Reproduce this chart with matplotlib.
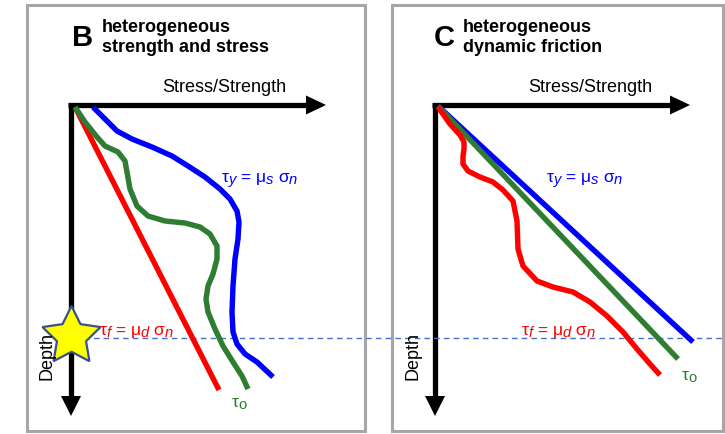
import matplotlib
matplotlib.use("Agg")
import matplotlib.pyplot as plt
from matplotlib.patches import Rectangle

plt.rcParams['font.family'] = ['Liberation Sans', 'DejaVu Sans']

# ---- data (stress = horizontal position, depth = vertical position, in figure pixels) ----
b_blue_stress = [93, 105, 117, 132, 152, 172, 188, 205, 220, 230, 237, 239, 238, 235, 233, 232, 233, 237, 245, 257, 273]
b_blue_depth = [108, 120, 132, 140, 148, 157, 167, 178, 190, 200, 212, 223, 240, 260, 287, 313, 333, 345, 355, 363, 378]
b_green_stress = [75, 85, 97, 105, 118, 125, 127, 130, 137, 148, 165, 185, 200, 210, 217, 217, 213, 208, 206, 208, 215, 223, 233, 242, 248]
b_green_depth = [108, 123, 138, 147, 153, 162, 173, 190, 207, 217, 222, 224, 228, 235, 247, 260, 275, 287, 300, 313, 330, 347, 363, 377, 390]
b_red_stress = [75, 219]
b_red_depth = [108, 391]

c_blue_stress = [438, 693]
c_blue_depth = [107, 343]
c_green_stress = [438, 678]
c_green_depth = [107, 360]
c_red_stress = [438, 450, 460, 464, 464, 463, 463, 468, 480, 493, 503, 513, 517, 518, 523, 537, 553, 573, 590, 607, 623, 637, 650, 660]
c_red_depth = [108, 125, 136, 143, 150, 157, 165, 172, 178, 183, 191, 202, 222, 250, 267, 282, 288, 293, 303, 317, 333, 350, 365, 376]

hypocentre_depth = 339

BLUE = '#0000ff'
GREEN = '#2e7d32'
RED = '#ff0000'

fig = plt.figure(figsize=(7.25, 4.35), dpi=100)
ax = fig.add_axes([0, 0, 1, 1])
ax.set_xlim(0, 725)
ax.set_ylim(435, 0)
ax.axis('off')
renderer = fig.canvas.get_renderer()

# panel frames
for (x0, x1) in [(27, 365), (392, 723)]:
    ax.add_patch(Rectangle((x0, 6), x1 - x0, 426, fill=False, edgecolor='#a6a6a6', lw=2.2))

# axes arrows
def axes_arrows(ox, oy, xend, yend):
    ax.plot([ox - 2.5, xend - 18], [oy, oy], color='black', lw=3.8, solid_capstyle='butt')
    ax.plot([ox, ox], [oy - 2.5, yend - 18], color='black', lw=3.8, solid_capstyle='butt')
    ax.fill([xend - 20, xend, xend - 20], [oy - 9.5, oy, oy + 9.5], color='black', lw=0)
    ax.fill([ox - 10, ox, ox + 10], [yend - 20, yend, yend - 20], color='black', lw=0)

axes_arrows(71, 106, 326, 417)
axes_arrows(435, 106, 690, 417)

# dashed hypocentre line
ax.plot([74, 725], [hypocentre_depth, hypocentre_depth], color='#4472c4', lw=1.0,
        dashes=(4, 3))

kw = dict(lw=3.9, solid_capstyle='butt', solid_joinstyle='round')
ax.plot(b_red_stress, b_red_depth, color=RED, **kw)
ax.plot(b_green_stress, b_green_depth, color=GREEN, **kw)
ax.plot(b_blue_stress, b_blue_depth, color=BLUE, **kw)

ax.plot(c_blue_stress, c_blue_depth, color=BLUE, **kw)
ax.plot(c_green_stress, c_green_depth, color=GREEN, **kw)
ax.plot(c_red_stress, c_red_depth, color=RED, **kw)

# star
ax.plot([71], [337], marker=(5, 1, 0), markersize=44, markerfacecolor='#ffff00',
        markeredgecolor='#3b5284', markeredgewidth=1.6)

# titles
ax.text(72, 46, 'B', fontsize=21, fontweight='bold', ha='left', va='baseline')
ax.text(102, 32, 'heterogeneous', fontsize=13, fontweight='bold', ha='left', va='baseline')
ax.text(102, 52, 'strength and stress', fontsize=13, fontweight='bold', ha='left', va='baseline')
ax.text(434, 46, 'C', fontsize=21, fontweight='bold', ha='left', va='baseline')
ax.text(463, 32, 'heterogeneous', fontsize=13, fontweight='bold', ha='left', va='baseline')
ax.text(463, 52, 'dynamic friction', fontsize=13, fontweight='bold', ha='left', va='baseline')

# axis labels
ax.text(224, 88, 'Stress/Strength', fontsize=13, ha='center', va='center')
ax.text(590, 88, 'Stress/Strength', fontsize=13, ha='center', va='center')
ax.text(47, 356, 'Depth', fontsize=13, rotation=90, ha='center', va='center')
ax.text(413, 356, 'Depth', fontsize=13, rotation=90, ha='center', va='center')


def rich(x, y, pieces, color, size=12.5):
    cur = x
    for s, kind in pieces:
        if kind == 'sub':
            t = ax.text(cur, y + 2.5, s, fontsize=size * 0.85, style='italic', color=color,
                        ha='left', va='baseline')
        elif kind == 'subr':
            t = ax.text(cur, y + 2.5, s, fontsize=size * 0.85, color=color,
                        ha='left', va='baseline')
        else:
            t = ax.text(cur, y, s, fontsize=size, color=color, ha='left', va='baseline')
        bb = t.get_window_extent(renderer=renderer)
        cur += bb.width


ty = [('τ', 'n'), ('y', 'sub'), (' = ', 'n'), ('μ', 'n'), ('s', 'sub'), (' σ', 'n'), ('n', 'sub')]
tf = [('τ', 'n'), ('f', 'sub'), (' = ', 'n'), ('μ', 'n'), ('d', 'sub'), (' σ', 'n'), ('n', 'sub')]
to = [('τ', 'n'), ('o', 'subr')]

rich(222, 182, ty, BLUE)
rich(100, 335, tf, RED)
rich(232, 407, to, GREEN)

rich(547, 182, ty, BLUE)
rich(522, 335, tf, RED)
rich(682, 380, to, GREEN)

fig.savefig('out.png', dpi=100)
